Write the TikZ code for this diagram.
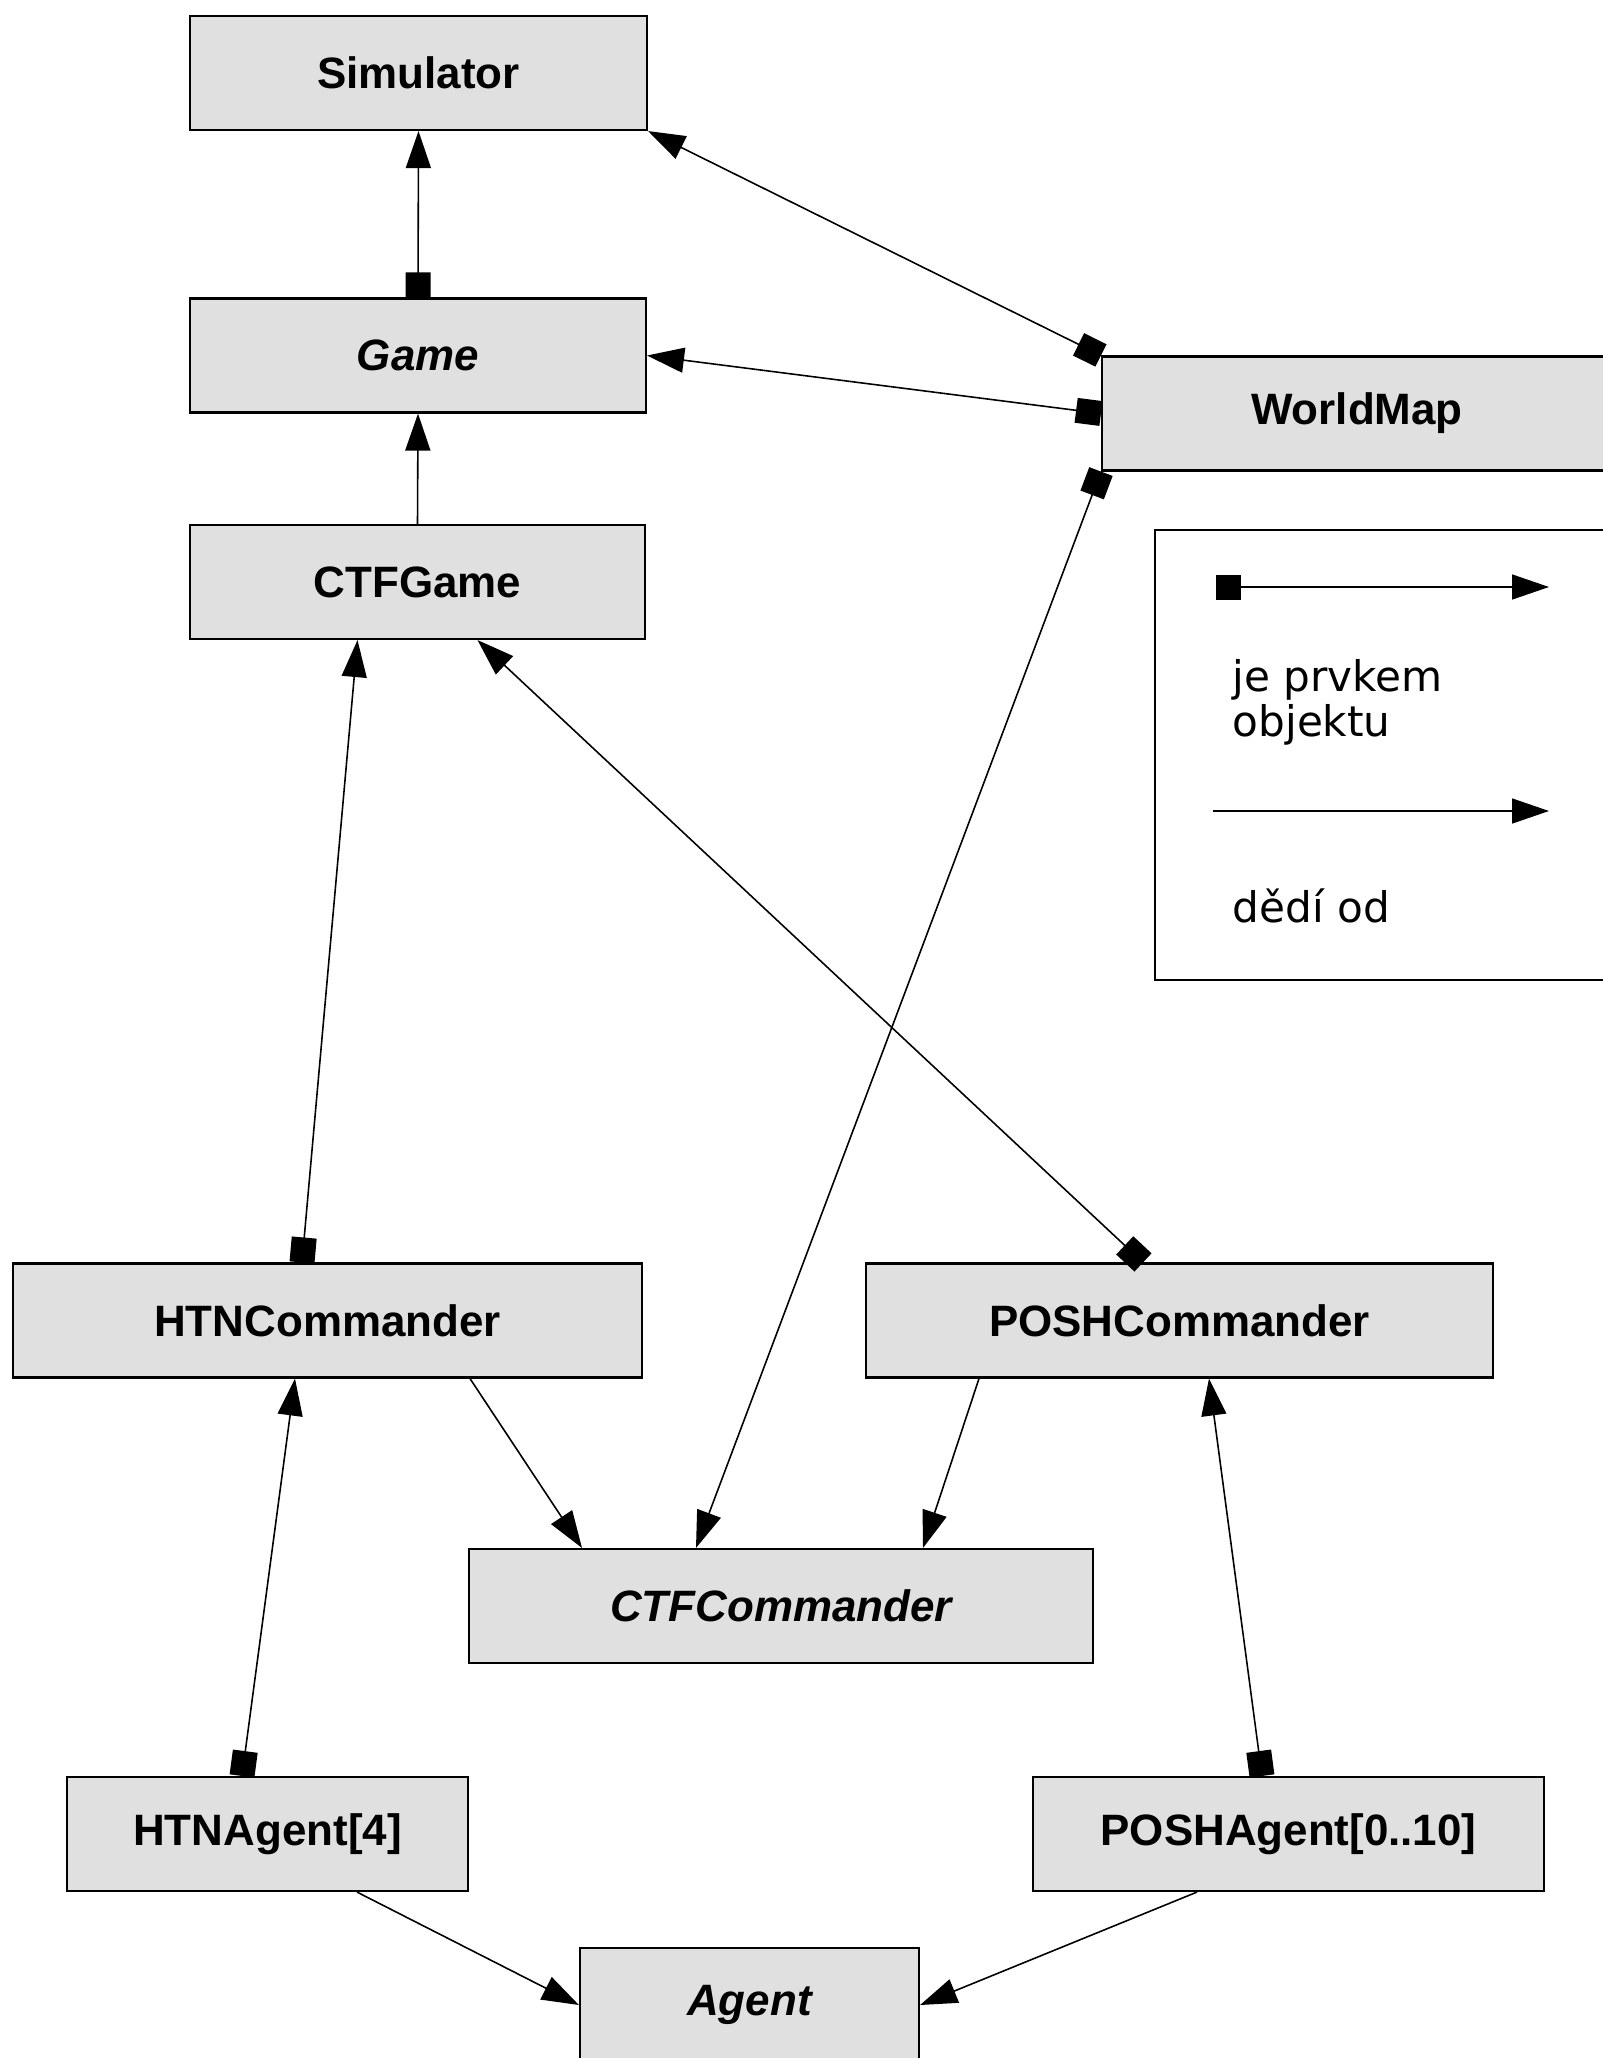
\documentclass[tikz,border=0pt]{standalone}
\usepackage{fontspec}
\setmainfont{Liberation Sans}
\newfontfamily\legendfont{DejaVu Sans}
\usetikzlibrary{arrows.meta}

\begin{document}
\begin{tikzpicture}[
        cls/.style={draw, line width=0.6pt, fill=black!12, minimum height=1.14cm, inner sep=0pt, font=\fontsize{12.5}{15}\selectfont\bfseries},
        abstr/.style={cls, font=\fontsize{12.5}{15}\selectfont\bfseries\itshape},
        member/.style={line width=0.45pt, arrows={Square[length=0.25cm,width=0.25cm]-Triangle[length=0.37cm,width=0.25cm]}},
        inherit/.style={line width=0.45pt, arrows={-Triangle[length=0.37cm,width=0.25cm]}},
        legendtext/.style={inner sep=0pt, align=left, font=\legendfont\fontsize{12}{12.8}\selectfont}
    ]
        \useasboundingbox (0,0) rectangle (16.03,-20.58);
        \node[cls, minimum width=4.57cm] (sim) at (4.185,-0.73) {Simulator};
        \node[abstr, minimum width=4.56cm] (game) at (4.18,-3.555) {Game};
        \node[cls, minimum width=4.55cm] (ctfgame) at (4.175,-5.82) {CTFGame};
        \node[cls, minimum width=5.10cm] (worldmap) at (13.57,-4.135) {WorldMap};
        \node[cls, minimum width=6.29cm] (htncmd) at (3.275,-13.205) {HTNCommander};
        \node[cls, minimum width=6.27cm] (poshcmd) at (11.795,-13.205) {POSHCommander};
        \node[abstr, minimum width=6.24cm] (ctfcmd) at (7.81,-16.06) {CTFCommander};
        \node[cls, minimum width=4.01cm] (htnagent) at (2.675,-18.34) {HTNAgent[4]};
        \node[cls, minimum width=5.11cm] (poshagent) at (12.885,-18.34) {POSHAgent[0..10]};
        \node[abstr, minimum width=3.39cm] (agent) at (7.495,-20.05) {Agent};
        \draw[member] (game.north) -- (sim.south);
        \draw[member] (worldmap.north west) -- (sim.south east);
        \draw[member] (worldmap.west) -- (game.east);
        \draw[inherit] (ctfgame.north) -- (game.south);
        \draw[member] (worldmap.south west) -- ([xshift=-0.85cm]ctfcmd.north);
        \draw[member] ([xshift=-0.255cm]htncmd.north) -- ([xshift=-0.6cm]ctfgame.south);
        \draw[member] ([xshift=-0.365cm]poshcmd.north) -- ([xshift=0.6cm]ctfgame.south);
        \draw[inherit] ([xshift=1.425cm]htncmd.south) -- ([xshift=-1.99cm]ctfcmd.north);
        \draw[inherit] ([xshift=-2.005cm]poshcmd.south) -- ([xshift=1.42cm]ctfcmd.north);
        \draw[member] ([xshift=-0.255cm]htnagent.north) -- ([xshift=-0.325cm]htncmd.south);
        \draw[member] ([xshift=-0.265cm]poshagent.north) -- ([xshift=0.295cm]poshcmd.south);
        \draw[inherit] ([xshift=0.895cm]htnagent.south) -- (agent.west);
        \draw[inherit] ([xshift=-0.915cm]poshagent.south) -- (agent.east);
        \node[draw, line width=0.6pt, minimum width=4.86cm, minimum height=4.5cm, anchor=north west] (legend) at (11.54,-5.29) {};
        \coordinate (mfrom) at (12.16,-5.87);
        \coordinate (mto) at (15.49,-5.87);
        \draw[member] (mfrom) -- (mto);
        \node[legendtext, anchor=west] (mlabel) at (12.32,-7.02) {je prvkem\\objektu};
        \coordinate (ifrom) at (12.13,-8.11);
        \coordinate (ito) at (15.49,-8.11);
        \draw[inherit] (ifrom) -- (ito);
        \node[legendtext, anchor=west] (ilabel) at (12.32,-9.06) {dědí od};
    \end{tikzpicture}
\end{document}
